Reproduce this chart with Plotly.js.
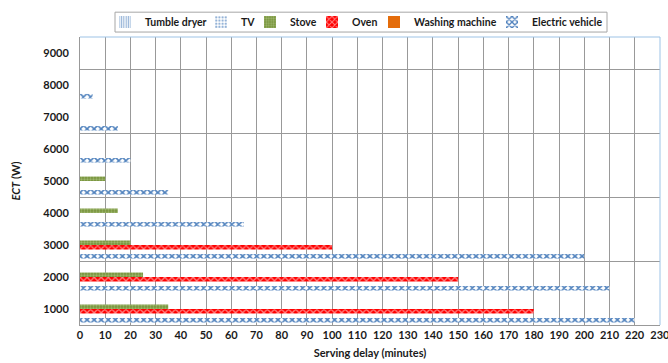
<!DOCTYPE html>
<html>
<head>
<meta charset="utf-8">
<script src="https://cdn.plot.ly/plotly-3.0.1.min.js"></script>
<style>html,body{margin:0;padding:0;background:#fff;}#chart{width:668px;height:363px;}</style>
</head>
<body>
<div id="chart"></div>
<script>
// ECT categories (W)
const ectLevels = [1000, 2000, 3000, 4000, 5000, 6000, 7000, 8000, 9000];
const yTickLabels = ['1000', '2000', '3000', '4000', '5000', '6000', '7000', '8000', '9000'];
// Serving delay (minutes) per appliance
const tumbleDryer = [0, 0, 0, 0, 0, 0, 0, 0, 0];
const tv = [0, 0, 0, 0, 0, 0, 0, 0, 0];
const stove = [35, 25, 20, 15, 10, 0, 0, 0, 0];
const oven = [180, 150, 100, 0, 0, 0, 0, 0, 0];
const washingMachine = [0, 0, 0, 0, 0, 0, 0, 0, 0];
const electricVehicle = [220, 210, 200, 65, 35, 20, 15, 5, 0];
const xTickVals = [0,10,20,30,40,50,60,70,80,90,100,110,120,130,140,150,160,170,180,190,200,210,220,230];
const seriesNames = ['Tumble dryer', 'TV', 'Stove', 'Oven', 'Washing machine', 'Electric vehicle'];

const FONT = 'Lato, "Open Sans", "DejaVu Sans", sans-serif';
const W = 668, H = 363, ML = 80, MR = 8, MT = 35, MB = 38;
const PW = W - ML - MR, PH = H - MT - MB;

function bar(name, vals, legendId, marker) {
  return {type: 'bar', orientation: 'h', name: name, x: vals, y: ectLevels, legend: legendId,
          marker: Object.assign({line: {width: 0}}, marker), hoverinfo: 'x+name'};
}

// grouped horizontal bars are laid out bottom-up: first trace lowest in each group
const traces = [
  bar(seriesNames[5], electricVehicle, 'legend6', {color: '#4F81BD',
      pattern: {shape: 'x', fillmode: 'replace', bgcolor: '#ffffff', size: 5, solidity: 0.55}}),
  bar(seriesNames[4], washingMachine, 'legend5', {color: '#E46C0A'}),
  bar(seriesNames[3], oven, 'legend4', {color: '#FF0000',
      pattern: {shape: 'x', fillmode: 'overlay', fgcolor: '#ffffff', size: 5, solidity: 0.45}}),
  bar(seriesNames[2], stove, 'legend3', {color: '#77933C',
      pattern: {shape: '.', fillmode: 'overlay', fgcolor: '#C4D79B', size: 3, solidity: 0.45}}),
  bar(seriesNames[1], tv, 'legend2', {color: '#95B3D7',
      pattern: {shape: '.', fillmode: 'replace', bgcolor: '#ffffff', size: 4, solidity: 0.45}}),
  bar(seriesNames[0], tumbleDryer, 'legend', {color: '#95B3D7',
      pattern: {shape: '|', fillmode: 'replace', bgcolor: '#ffffff', size: 3, solidity: 0.5}})
];
// invisible trace so the overlay axis (every-second-category grid) is drawn
traces.push({type: 'scatter', x: [], y: [], yaxis: 'y2', showlegend: false, hoverinfo: 'skip'});

// legend entries: pixel x of each entry's left edge (style only)
const legendLeft = [105, 201, 250, 312, 374, 492];
const legendFont = {family: FONT, size: 10.5, color: '#1a1a1a', weight: 'bold'};
function legendAt(px) {
  return {orientation: 'h', x: (px - ML) / PW, xanchor: 'left', y: 1 + 15 / PH, yanchor: 'middle',
          bgcolor: 'rgba(0,0,0,0)', borderwidth: 0, font: legendFont, itemwidth: 30};
}

const axisFont = {family: FONT, size: 11, weight: 'bold', color: '#1a1a1a'};
const layout = {
  width: W, height: H,
  margin: {l: ML, r: MR, t: MT, b: MB},
  paper_bgcolor: '#ffffff', plot_bgcolor: '#ffffff',
  font: {family: FONT, size: 11, color: '#1a1a1a'},
  barmode: 'group', bargap: 0.16, bargroupgap: 0,
  showlegend: true,
  legend: legendAt(legendLeft[0]),
  legend2: legendAt(legendLeft[1]),
  legend3: legendAt(legendLeft[2]),
  legend4: legendAt(legendLeft[3]),
  legend5: legendAt(legendLeft[4]),
  legend6: legendAt(legendLeft[5]),
  xaxis: {range: [0, 230.05], tickmode: 'array', tickvals: xTickVals, ticktext: xTickVals.map(String),
          showgrid: true, gridcolor: '#999999', gridwidth: 1, zeroline: false,
          showline: true, linecolor: '#999999', linewidth: 1, ticks: '',
          tickfont: axisFont, ticklabeloverflow: 'allow',
          title: {text: 'Serving delay (minutes)', standoff: 9, font: axisFont},
          fixedrange: true},
  yaxis: {range: [500, 9500], tickmode: 'array', tickvals: ectLevels, ticktext: yTickLabels,
          showgrid: false, zeroline: false, showline: true, linecolor: '#999999', linewidth: 1,
          ticks: '', ticklabelstandoff: 8, tickfont: axisFont,
          title: {text: '<i>ECT</i> (W)', standoff: 20, font: axisFont},
          fixedrange: true},
  yaxis2: {overlaying: 'y', range: [500, 9500], tickmode: 'linear', tick0: 500, dtick: 2000,
           showgrid: true, gridcolor: '#999999', gridwidth: 1, showticklabels: false,
           zeroline: false, showline: false, ticks: '', fixedrange: true},
  shapes: [
    // legend frame
    {type: 'rect', xref: 'paper', yref: 'paper',
     x0: (115 - ML) / PW, x1: (607 - ML) / PW, y0: 1 + 5 / PH, y1: 1 + 25 / PH,
     line: {color: '#a6a6a6', width: 1}, fillcolor: 'rgba(0,0,0,0)'},
    // plot frame top / right
    {type: 'line', xref: 'paper', yref: 'paper', x0: 0, x1: 1, y0: 1, y1: 1,
     line: {color: '#9DC3E6', width: 1}},
    {type: 'line', xref: 'paper', yref: 'paper', x0: 1, x1: 1, y0: 0, y1: 1,
     line: {color: '#9DC3E6', width: 1}}
  ]
};

Plotly.newPlot('chart', traces, layout, {displayModeBar: false, staticPlot: true});
</script>
</body>
</html>
